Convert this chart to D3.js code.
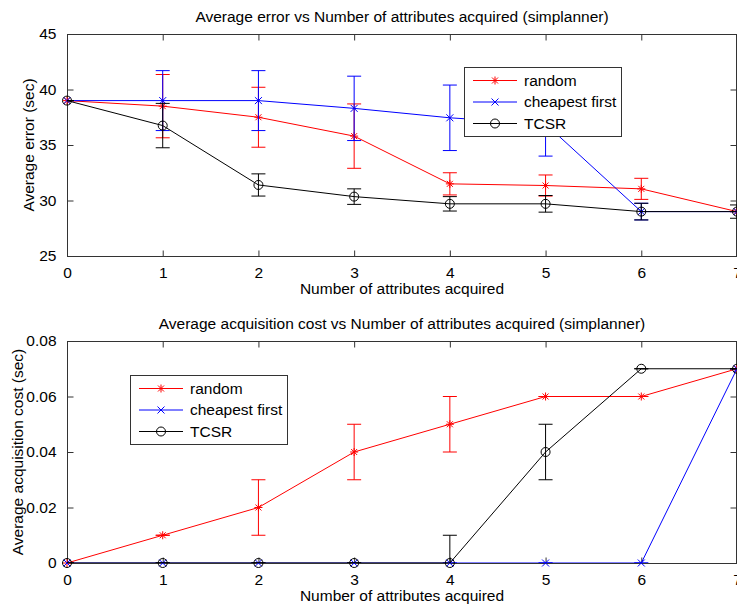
<!DOCTYPE html>
<html>
<head>
<meta charset="utf-8">
<script src="https://cdn.jsdelivr.net/npm/d3@7"></script>
<style>
  body { margin: 0; background: #fff; }
  svg text { font-family: "Liberation Sans", Arial, sans-serif; font-size: 15.5px; fill: #000; }
</style>
</head>
<body>
<div id="chart-container"></div>
<script>
// attribute counts on the x axis
const attrs = [0, 1, 2, 3, 4, 5, 6, 7];
const xTickLabels = ["0", "1", "2", "3", "4", "5", "6", "7"];

// average error (sec)
const errRandom = [39, 38.5, 37.5, 35.8, 31.5, 31.35, 31.05, 29];
const errRandomBar = [0, 2.85, 2.7, 2.9, 1.0, 0.95, 0.95, 0];
const errCheapest = [39, 39, 39, 38.3, 37.45, 36.9, 29, 29];
const errCheapestBar = [0, 2.7, 2.7, 2.9, 2.95, 2.9, 0.75, 0];
const errTcsr = [39, 36.75, 31.4, 30.35, 29.7, 29.7, 29, 29];
const errTcsrBar = [0, 2.0, 1.0, 0.7, 0.65, 0.75, 0.75, 0.6];
const errTicks = [25, 30, 35, 40, 45];
const errTickLabels = ["25", "30", "35", "40", "45"];

// average acquisition cost (sec)
const costRandom = [0, 0.01, 0.02, 0.04, 0.05, 0.06, 0.06, 0.07];
const costRandomBar = [0, 0, 0.01, 0.01, 0.01, 0, 0, 0];
const costCheapest = [0, 0, 0, 0, 0, 0, 0, 0.07];
const costCheapestBar = [0, 0, 0, 0, 0, 0, 0, 0];
const costTcsr = [0, 0, 0, 0, 0, 0.04, 0.07, 0.07];
const costTcsrBar = [0, 0, 0, 0, 0.01, 0.01, 0, 0];
const costTicks = [0, 0.02, 0.04, 0.06, 0.08];
const costTickLabels = ["0", "0.02", "0.04", "0.06", "0.08"];

const seriesNames = ["random", "cheapest first", "TCSR"];
const seriesColors = ["#ff0000", "#0000ff", "#000000"];
const seriesMarkers = ["star", "cross", "circle"];

const W = 737, H = 608;
const left = 67, right = 737;
const axisColor = "#333";

const svg = d3.select("#chart-container")
  .append("svg")
    .attr("width", W)
    .attr("height", H);

const x = d3.scaleLinear().domain([0, 7]).range([left, right]);

function marker(g, type, color) {
  const p = d3.path();
  if (type === "star") {
    p.moveTo(-4, 0); p.lineTo(4, 0);
    p.moveTo(0, -4); p.lineTo(0, 4);
    p.moveTo(-3, -3); p.lineTo(3, 3);
    p.moveTo(-3, 3); p.lineTo(3, -3);
    g.append("path").attr("d", p.toString()).attr("stroke", color).attr("fill", "none");
  } else if (type === "cross") {
    p.moveTo(-3.5, -3.5); p.lineTo(3.5, 3.5);
    p.moveTo(-3.5, 3.5); p.lineTo(3.5, -3.5);
    g.append("path").attr("d", p.toString()).attr("stroke", color).attr("fill", "none");
  } else {
    g.append("circle").attr("r", 4.5).attr("stroke", color).attr("fill", "none");
  }
}

function panel(opts) {
  const { top, bottom, yDomain, ticks, tickLabels, title, yLabel, series, legend, id } = opts;
  const y = d3.scaleLinear().domain(yDomain).range([bottom, top]);
  const g = svg.append("g");

  g.append("clipPath").attr("id", id)
    .append("rect")
      .attr("x", left).attr("y", top)
      .attr("width", right - left).attr("height", bottom - top);

  // axes box
  g.append("rect")
    .attr("x", left + 0.5).attr("y", top + 0.5)
    .attr("width", right - left - 1).attr("height", bottom - top)
    .attr("fill", "none").attr("stroke", axisColor);

  // bottom / top ticks (inward)
  const xb = g.append("g").attr("transform", `translate(0,${bottom + 0.5})`)
    .call(d3.axisBottom(x).tickValues(attrs).tickSizeInner(-6).tickSizeOuter(0)
      .tickPadding(10).tickFormat((d, i) => xTickLabels[i]));
  xb.select(".domain").remove();
  xb.selectAll("line").attr("stroke", axisColor);
  xb.selectAll("text").attr("font-size", 15.5).attr("font-family", null);

  const xt = g.append("g").attr("transform", `translate(0,${top + 0.5})`)
    .call(d3.axisTop(x).tickValues(attrs).tickSizeInner(-6).tickSizeOuter(0).tickFormat(""));
  xt.select(".domain").remove();
  xt.selectAll("line").attr("stroke", axisColor);

  const yl = g.append("g").attr("transform", `translate(${left + 0.5},0)`)
    .call(d3.axisLeft(y).tickValues(ticks).tickSizeInner(-6).tickSizeOuter(0)
      .tickPadding(11).tickFormat((d, i) => tickLabels[i]));
  yl.select(".domain").remove();
  yl.selectAll("line").attr("stroke", axisColor);
  yl.selectAll("text").attr("font-size", 15.5).attr("font-family", null);

  const yr = g.append("g").attr("transform", `translate(${right - 0.5},0)`)
    .call(d3.axisRight(y).tickValues(ticks).tickSizeInner(-6).tickSizeOuter(0).tickFormat(""));
  yr.select(".domain").remove();
  yr.selectAll("line").attr("stroke", axisColor);

  // error bars, lines and markers
  const line = d3.line().x((d, i) => x(attrs[i])).y(d => y(d));
  series.forEach((s, k) => {
    const color = seriesColors[k];
    const sg = g.append("g");
    const clipped = sg.append("g").attr("clip-path", `url(#${id})`);
    clipped.append("path")
      .datum(s.values)
      .attr("fill", "none")
      .attr("stroke", color)
      .attr("stroke-width", 1)
      .attr("d", line);
    s.values.forEach((v, i) => {
      const cx = x(attrs[i]);
      const y0 = y(v - s.bars[i]), y1 = y(v + s.bars[i]);
      const eb = clipped.append("g").attr("stroke", color).attr("stroke-width", 1);
      eb.append("line").attr("x1", cx).attr("x2", cx).attr("y1", y0).attr("y2", y1);
      eb.append("line").attr("x1", cx - 7).attr("x2", cx + 7).attr("y1", y0).attr("y2", y0);
      eb.append("line").attr("x1", cx - 7).attr("x2", cx + 7).attr("y1", y1).attr("y2", y1);
    });
    s.values.forEach((v, i) => {
      const mg = sg.append("g").attr("transform", `translate(${x(attrs[i])},${y(v)})`);
      marker(mg, seriesMarkers[k], color);
    });
  });

  // title and axis labels
  g.append("text")
    .attr("x", (left + right) / 2).attr("y", top - 12)
    .attr("text-anchor", "middle")
    .text(title);
  g.append("text")
    .attr("x", (left + right) / 2).attr("y", bottom + 38)
    .attr("text-anchor", "middle")
    .text("Number of attributes acquired");
  g.append("text")
    .attr("transform", `translate(${opts.yLabelX},${(top + bottom) / 2}) rotate(-90)`)
    .attr("text-anchor", "middle")
    .text(yLabel);

  // legend
  const lg = g.append("g").attr("transform", `translate(${legend[0]},${legend[1]})`);
  lg.append("rect")
    .attr("x", 0.5).attr("y", 0.5).attr("width", 157).attr("height", 69)
    .attr("fill", "#fff").attr("stroke", axisColor);
  seriesNames.forEach((name, k) => {
    const ry = 13.5 + k * 21.5;
    lg.append("line")
      .attr("x1", 9).attr("x2", 53).attr("y1", ry).attr("y2", ry)
      .attr("stroke", seriesColors[k]);
    marker(lg.append("g").attr("transform", `translate(31,${ry})`), seriesMarkers[k], seriesColors[k]);
    lg.append("text")
      .attr("x", 60).attr("y", ry).attr("dy", "0.35em")
      .text(name);
  });
}

panel({
  id: "clip-err",
  top: 34, bottom: 256,
  yDomain: [25, 45],
  ticks: errTicks, tickLabels: errTickLabels,
  title: "Average error vs Number of attributes acquired (simplanner)",
  yLabel: "Average error (sec)",
  yLabelX: 34,
  series: [
    { values: errRandom, bars: errRandomBar },
    { values: errCheapest, bars: errCheapestBar },
    { values: errTcsr, bars: errTcsrBar }
  ],
  legend: [464, 67]
});

panel({
  id: "clip-cost",
  top: 341, bottom: 563,
  yDomain: [0, 0.08],
  ticks: costTicks, tickLabels: costTickLabels,
  title: "Average acquisition cost vs Number of attributes acquired (simplanner)",
  yLabel: "Average acquisition cost (sec)",
  yLabelX: 23,
  series: [
    { values: costRandom, bars: costRandomBar },
    { values: costCheapest, bars: costCheapestBar },
    { values: costTcsr, bars: costTcsrBar }
  ],
  legend: [130, 375]
});
</script>
</body>
</html>
